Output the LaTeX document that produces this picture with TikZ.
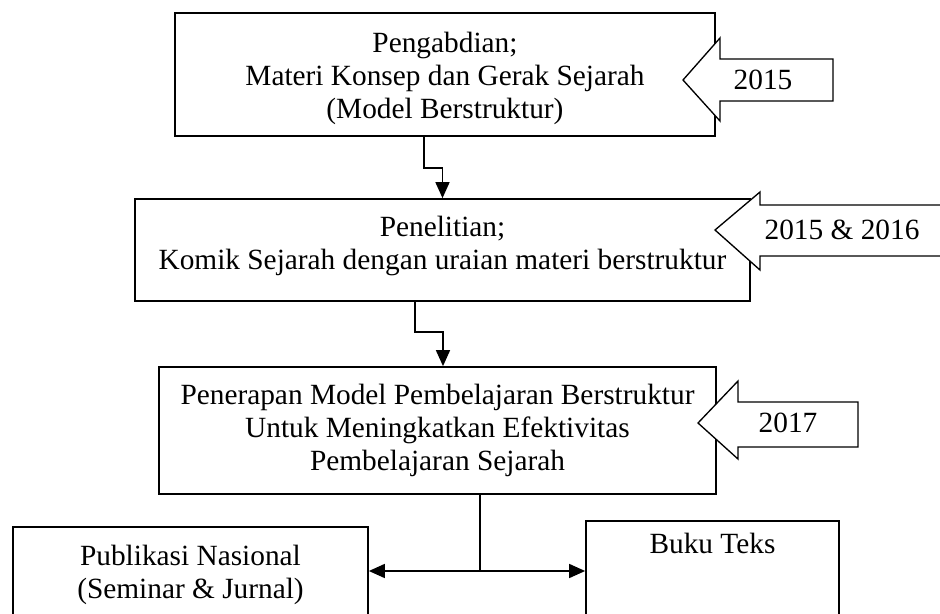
\documentclass[tikz,border=0pt]{standalone}
\usepackage{fontspec}
\setmainfont{Liberation Serif}
\usetikzlibrary{arrows.meta,calc}
\begin{document}
\begin{tikzpicture}[x=0.75pt,y=-0.75pt,
  txt/.style={font=\fontsize{22}{24.75}\selectfont},
  box/.style={draw,line width=1.3pt,inner sep=0pt},
  inside/.style={txt,align=center,inner sep=0pt},
  conn/.style={line width=1.2pt,-{Triangle[length=12pt,width=10.5pt]}},
  both/.style={line width=1.2pt,{Triangle[length=12pt,width=10.5pt]}-{Triangle[length=12pt,width=10.5pt]}},
  yeararrow/.style={draw,line width=1pt,fill=white,line join=miter},
  yeartext/.style={txt,inner sep=0pt}]
\useasboundingbox (0,0) rectangle (940,614);
\clip (0,0) rectangle (940,614);

% main boxes, each with its text set a little off centre
\node[box,minimum width=405pt,minimum height=92.25pt,
  label={[inside,yshift=-3pt]center:{Pengabdian;\\Materi Konsep dan Gerak Sejarah\\(Model Berstruktur)}}]
  (b1) at (445,74.5) {};
\node[box,minimum width=461.25pt,minimum height=76.5pt,
  label={[inside,yshift=3pt]center:{Penelitian;\\Komik Sejarah dengan uraian materi berstruktur}}]
  (b2) at (442.5,250) {};
\node[box,minimum width=417.75pt,minimum height=95.25pt,
  label={[inside]center:{Penerapan Model Pembelajaran Berstruktur\\Untuk Meningkatkan Efektivitas\\Pembelajaran Sejarah}}]
  (b3) at (437.5,430.5) {};
\node[box,minimum width=266.25pt,minimum height=66.75pt,
  label={[inside,yshift=-2.25pt]center:{Publikasi Nasional\\(Seminar \& Jurnal)}}]
  (pub) at (190.5,571.5) {};
\node[box,minimum width=189.75pt,minimum height=75pt] (buku) at (712.5,571) {};
\node[txt,inner sep=0pt,anchor=north] (bukut) at ($(buku.north)+(0,13)$) {Buku Teks};

% connectors between the boxes
\draw[conn] ($(b1.south)+(-21,0)$) |- ($(b2.north)+(0,-30)$) -- (b2.north);
\draw[conn] ($(b2.south)+(-27.5,0)$) |- ($(b3.north)+(5.5,-34)$) -- ($(b3.north)+(5.5,0)$);
\coordinate (split) at (480,571);
\draw[line width=1.2pt] (b3.south -| split) -- (split);
\draw[both] (pub.east |- split) -- (buku.west |- split);

% year block arrows
\draw[yeararrow] (683,80) -- (720,38) -- (720,59) -- (833,59) -- (833,101)
  -- (720,101) -- (720,121) -- cycle;
\node[yeartext] (y1) at (763,80) {2015};
\draw[yeararrow] (715,230) -- (760,192) -- (760,205) -- (955,205) -- (955,256)
  -- (760,256) -- (760,270) -- cycle;
\node[yeartext] (y2) at (842,230) {2015 \& 2016};
\draw[yeararrow] (698,423) -- (738,381) -- (738,402) -- (858,402) -- (858,447)
  -- (738,447) -- (738,459) -- cycle;
\node[yeartext] (y3) at (788,423) {2017};
\end{tikzpicture}
\end{document}
